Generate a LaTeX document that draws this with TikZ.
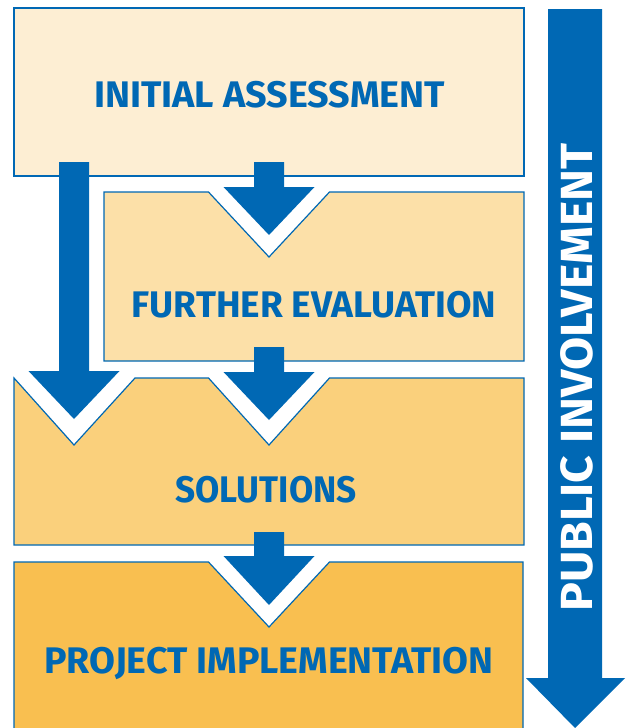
\documentclass[tikz,border=0pt]{standalone}
\usepackage{fontspec}
\setmainfont{Fira Sans}
\definecolor{blueA}{RGB}{0,104,180}
\definecolor{cOne}{RGB}{253,238,211}
\definecolor{cTwo}{RGB}{252,224,168}
\definecolor{cThree}{RGB}{250,208,124}
\definecolor{cFour}{RGB}{249,191,80}
\newcommand\DnArrow[4]{\fill[blueA] (#1-15,#2) -- (#1+15,#2) -- (#1+15,#3) -- (#1+45.5,#3) -- (#1,#4) -- (#1-45.5,#3) -- (#1-15,#3) -- cycle;}
\begin{document}
\begin{tikzpicture}[x=1pt,y=-1pt,
  boxline/.style={draw=blueA,line width=1.2pt,line join=miter},
  boxtext/.style={text=blueA,font=\bfseries\fontsize{37}{40}\selectfont,inner sep=0pt,anchor=base},
  pubtext/.style={text=white,font=\bfseries\fontsize{45}{48}\selectfont,inner sep=0pt,anchor=base,rotate=90}]
\useasboundingbox (0,0) rectangle (628,728);
\clip (0,0) rectangle (628,728);
\fill[white] (0,0) rectangle (628,728);
% box 1
\filldraw[boxline,fill=cOne] (14,8) rectangle (524,176);
% box 2
\filldraw[boxline,fill=cTwo] (104,192) -- (208.5,192) -- (269,257) -- (329.5,192) -- (524,192) -- (524,361) -- (104,361) -- cycle;
% box 3
\filldraw[boxline,fill=cThree] (14,378) -- (74,445) -- (135,378) -- (208.5,378) -- (269,445) -- (329.5,378) -- (524,378) -- (524,545) -- (14,545) -- cycle;
% box 4
\filldraw[boxline,fill=cFour] (14,740) -- (14,562) -- (208.5,562) -- (269,627) -- (329.5,562) -- (523,562) -- (523,740);
% arrows
\DnArrow{74}{162}{371}{419}
\DnArrow{269}{162}{187}{235}
\DnArrow{269}{347}{372}{420}
\DnArrow{269}{532}{556}{605}
% public involvement arrow
\fill[blueA] (548,9) -- (602,9) -- (602,678) -- (625,678) -- (575,728) -- (526,678) -- (548,678) -- cycle;
% texts
\node[boxtext] (t1) at (269.5,107) {\scalebox{1.02}[1]{INITIAL ASSESSMENT}};
\node[boxtext] (t2) at (314,317.5) {FURTHER EVALUATION};
\node[boxtext] (t3) at (266,502.5) {\scalebox{0.95}[1]{SOLUTIONS}};
\node[boxtext] (t4) at (269,673) {\scalebox{1.015}[1]{PROJECT IMPLEMENTATION}};
\node[pubtext] (pub) at (592.5,377.5) {\scalebox{1.07}[1]{PUBLIC INVOLVEMENT}};
\end{tikzpicture}
\end{document}
